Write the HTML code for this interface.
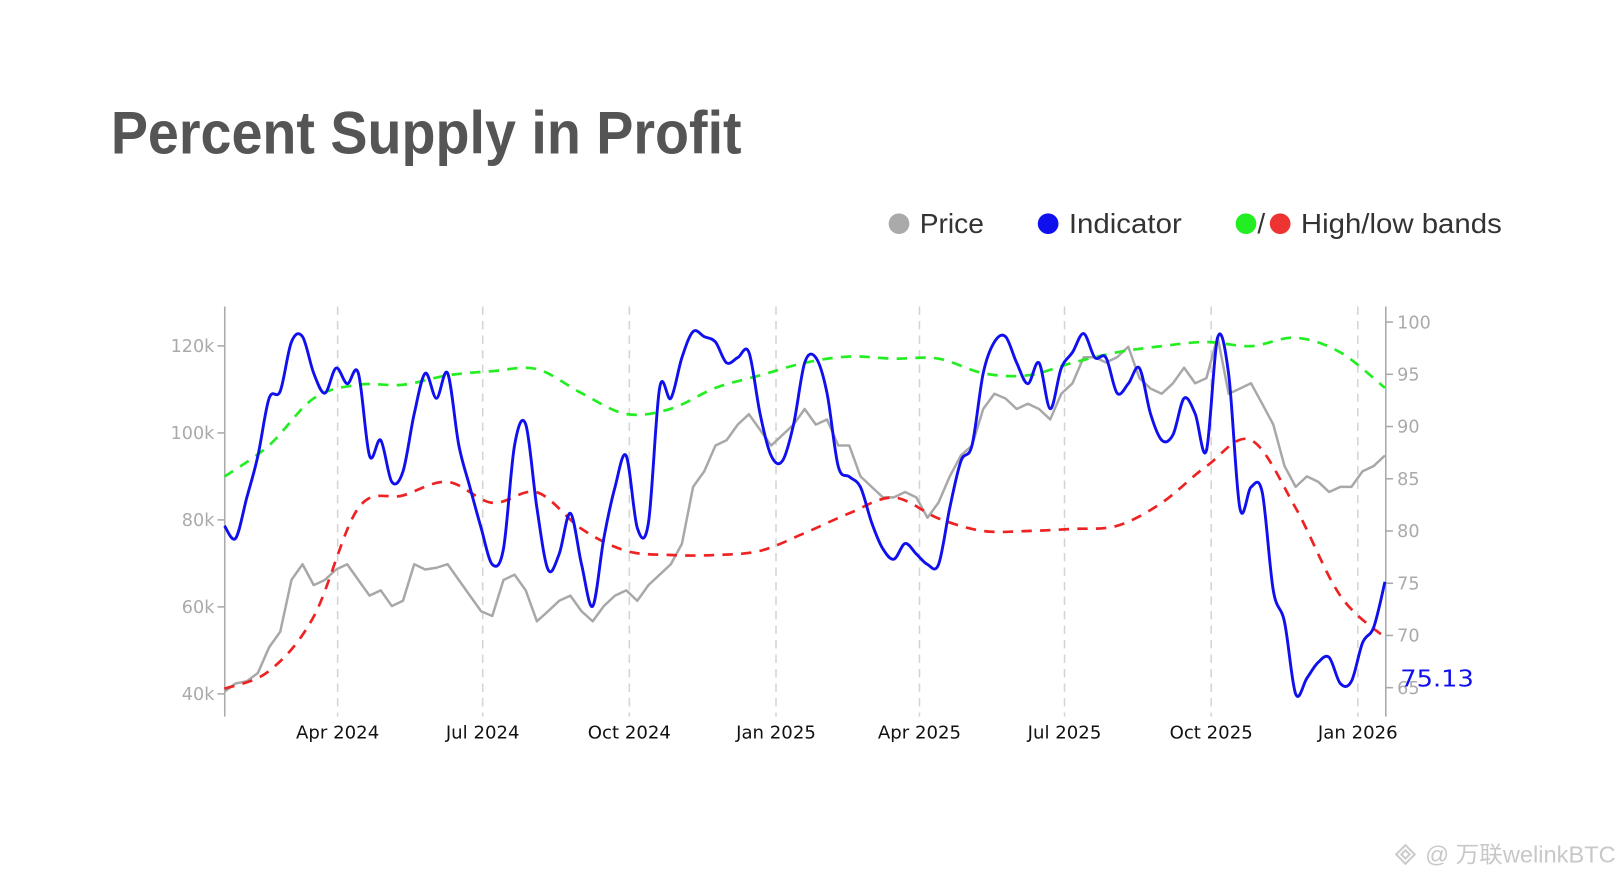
<!DOCTYPE html>
<html><head><meta charset="utf-8"><style>
html,body{margin:0;padding:0;background:#fff;width:1624px;height:880px;overflow:hidden}
svg{display:block}
</style></head><body>
<svg id="chart" width="1624" height="880" viewBox="0 0 1568 849.7" preserveAspectRatio="none" xmlns="http://www.w3.org/2000/svg">
<text x="107" y="148" font-family="Liberation Sans, sans-serif" font-weight="bold" font-size="58" fill="#555" textLength="609" lengthAdjust="spacingAndGlyphs">Percent Supply in Profit</text>
<g font-family="Liberation Sans, sans-serif" font-size="27" fill="#333">
<g><circle cx="868" cy="216" r="10" fill="#aaa"/><text x="888" y="225" textLength="62" lengthAdjust="spacingAndGlyphs">Price</text></g>
<g><circle cx="1012" cy="216" r="10" fill="#1010ee"/><text x="1032" y="225" textLength="109" lengthAdjust="spacingAndGlyphs">Indicator</text></g>
<g><circle cx="1203" cy="216" r="10" fill="#22ee22"/><text x="1214" y="225">/</text><circle cx="1236" cy="216" r="10" fill="#ee3333"/><text x="1256" y="225" textLength="194" lengthAdjust="spacingAndGlyphs">High/low bands</text></g>
</g>
<g id="grid"></g>
<g id="axes"></g>
<g id="series"></g>
<text x="1352" y="663" font-family="DejaVu Sans, sans-serif" font-size="22" fill="#1010ee" textLength="71" lengthAdjust="spacingAndGlyphs">75.13</text>
<g>
<g transform="translate(1357,825)" fill="none" stroke="#ccc" stroke-width="2"><path d="M0,-9 L9,0 L0,9 L-9,0 Z"/><path d="M0,-4 L4,0 L0,4 L-4,0 Z"/></g>
<text x="1376" y="833" font-family="Liberation Sans, 'Noto Sans CJK SC', sans-serif" font-size="22" fill="#c8c8c8" textLength="184" lengthAdjust="spacingAndGlyphs">@ 万联welinkBTC</text>
</g>
</svg>
<script>
const weekStart = "2024-01-21";
const priceK = [40.5,42.4,42.9,44.8,50.7,54.3,66.2,69.8,65,66.2,68.6,69.8,66.2,62.6,63.8,60.2,61.4,69.8,68.6,69,69.8,66.2,62.6,59,57.9,66.2,67.4,63.8,56.7,59,61.4,62.6,59,56.7,60.2,62.6,63.8,61.4,65,67.4,69.8,74.5,87.6,91.2,97.1,98.3,101.9,104.3,100.7,97.1,99.5,101.9,105.5,101.9,103.1,97.1,97.1,90,87.6,85.2,85.2,86.4,85.2,80.5,84,90,94.8,97.1,105.5,109,107.9,105.5,106.7,105.5,103.1,109,111.4,117.4,117.4,116.2,117.4,119.8,112.6,110.2,109,111.4,115,111.4,112.6,122.1,109,110.2,111.4,106.7,101.9,92.4,87.6,90,88.8,86.4,87.6,87.6,91.2,92.4,94.8];
const indicator = [80.5,79.3,83.2,87.2,92.7,93.4,98.1,98.6,95.1,93.2,95.6,94.1,95.1,87.2,88.7,84.7,85.7,91.2,95.1,92.7,95.1,88.2,84.2,80.3,76.8,78.3,88.2,90.2,82.2,76.3,77.8,81.7,76.8,72.8,79.3,84.2,87.2,80.3,80.8,93.7,92.7,96.6,99.1,98.6,98.1,96.1,96.6,97.1,91.2,87.2,86.7,90.2,96.1,96.6,93.2,86.2,85.2,84.2,80.8,78.3,77.3,78.8,77.8,76.8,76.8,82.2,86.7,88.2,95.1,98.1,98.6,96.1,94.1,96.1,91.7,95.6,97.1,98.9,96.6,96.6,93.2,94.1,95.6,91.2,88.7,89.2,92.7,91.2,87.7,98.5,95,82.2,84.2,83.7,74.3,71.3,64.4,65.9,67.4,67.9,65.4,65.6,69.3,70.8,75.13];
const highBand = [85.2,88.2,92.7,94,94,94.9,95.3,95.5,93.2,91.2,91.7,93.7,94.9,96.1,96.7,96.5,96.5,95.1,94.9,96.1,97.1,97.7,98.1,97.7,98.5,97.1,93.7];
const lowBand = [64.9,66.6,71.8,82.2,83.4,84.7,82.7,83.7,80.2,78.1,77.7,77.7,78.1,79.8,81.7,83.2,81.2,80,80,80.2,80.5,82.7,86.2,88.7,82.2,73.8,69.8];
const xTickLabels = ["Apr 2024","Jul 2024","Oct 2024","Jan 2025","Apr 2025","Jul 2025","Oct 2025","Jan 2026"];
const xTickDates = ["2024-04-01","2024-07-01","2024-10-01","2025-01-01","2025-04-01","2025-07-01","2025-10-01","2026-01-01"];
const leftTicks = [40,60,80,100,120];
const rightTicks = [65,70,75,80,85,90,95,100];

const NS="http://www.w3.org/2000/svg";
const DAY=86400000, ref=Date.parse("2024-04-01");
function xDate(d){return 326+((Date.parse(d)-ref)/DAY)*985/640;}
function xWeek(i){return xDate(weekStart)+i*7*985/640;}
function xBand(k){return xWeek(k*4);}
function yL(p){return 670-(p-40)/20*84;}
function yR(v){return 664-(v-65)*10.086;}
function mk(tag,attrs,parent){const e=document.createElementNS(NS,tag);for(const k in attrs)e.setAttribute(k,attrs[k]);parent.appendChild(e);return e;}
const grid=document.getElementById('grid'),axes=document.getElementById('axes'),series=document.getElementById('series');
const TOP=296,BOT=692,LX=217,RX=1338;

xTickDates.forEach((d,i)=>{
  const x=xDate(d);
  const l=mk('line',{x1:x,x2:x,y1:TOP,y2:BOT,stroke:'#d4d4d4','stroke-width':1.5,'stroke-dasharray':'8 6'},grid);
  
  
  const t=mk('text',{x:x,y:713,'text-anchor':'middle','font-family':'DejaVu Sans, sans-serif','font-size':17.5,fill:'#111'},axes);
  t.textContent=xTickLabels[i];
  
  
});
let a=mk('line',{x1:LX,x2:LX,y1:TOP,y2:BOT,stroke:'#aaa','stroke-width':1.5},axes);


a=mk('line',{x1:RX,x2:RX,y1:TOP,y2:BOT,stroke:'#aaa','stroke-width':1.5},axes);


leftTicks.forEach(p=>{
  const y=yL(p);
  mk('line',{x1:LX-7,x2:LX,y1:y,y2:y,stroke:'#aaa','stroke-width':1.5},axes);
  const t=mk('text',{x:LX-10,y:y+6,'text-anchor':'end','font-family':'DejaVu Sans, sans-serif','font-size':17,fill:'#aaa'},axes);
  t.textContent=p+'k';
  
  
});
rightTicks.forEach(v=>{
  const y=yR(v);
  mk('line',{x1:RX,x2:RX+7,y1:y,y2:y,stroke:'#aaa','stroke-width':1.5},axes);
  const t=mk('text',{x:RX+11,y:y+6,'font-family':'DejaVu Sans, sans-serif','font-size':17,fill:'#aaa'},axes);
  t.textContent=v;
  
  
});
function linePath(pts){return pts.map((p,i)=>(i?'L':'M')+p[0].toFixed(1)+','+p[1].toFixed(1)).join('');}
function smoothPath(pts){let d='M'+pts[0][0]+','+pts[0][1];for(let i=0;i<pts.length-1;i++){const p0=pts[i-1]||pts[i],p1=pts[i],p2=pts[i+1],p3=pts[i+2]||p2;d+='C'+(p1[0]+(p2[0]-p0[0])/6).toFixed(1)+','+(p1[1]+(p2[1]-p0[1])/6).toFixed(1)+' '+(p2[0]-(p3[0]-p1[0])/6).toFixed(1)+','+(p2[1]-(p3[1]-p1[1])/6).toFixed(1)+' '+p2[0].toFixed(1)+','+p2[1].toFixed(1);}return d;}

let s=mk('path',{d:linePath(priceK.map((p,i)=>[xWeek(i),yL(p)])),fill:'none',stroke:'#a8a8a8','stroke-width':2.4,'stroke-linejoin':'round'},series);


s=mk('path',{d:smoothPath(lowBand.map((v,k)=>[xBand(k),yR(v)])),fill:'none',stroke:'#ee2222','stroke-width':2.6,'stroke-dasharray':'10 8'},series);


s=mk('path',{d:smoothPath(highBand.map((v,k)=>[xBand(k),yR(v)])),fill:'none',stroke:'#22ee22','stroke-width':2.6,'stroke-dasharray':'10 8'},series);


s=mk('path',{d:smoothPath(indicator.map((v,i)=>[xWeek(i),yR(v)])),fill:'none',stroke:'#1010ee','stroke-width':2.8,'stroke-linejoin':'round'},series);


</script>
</body></html>
